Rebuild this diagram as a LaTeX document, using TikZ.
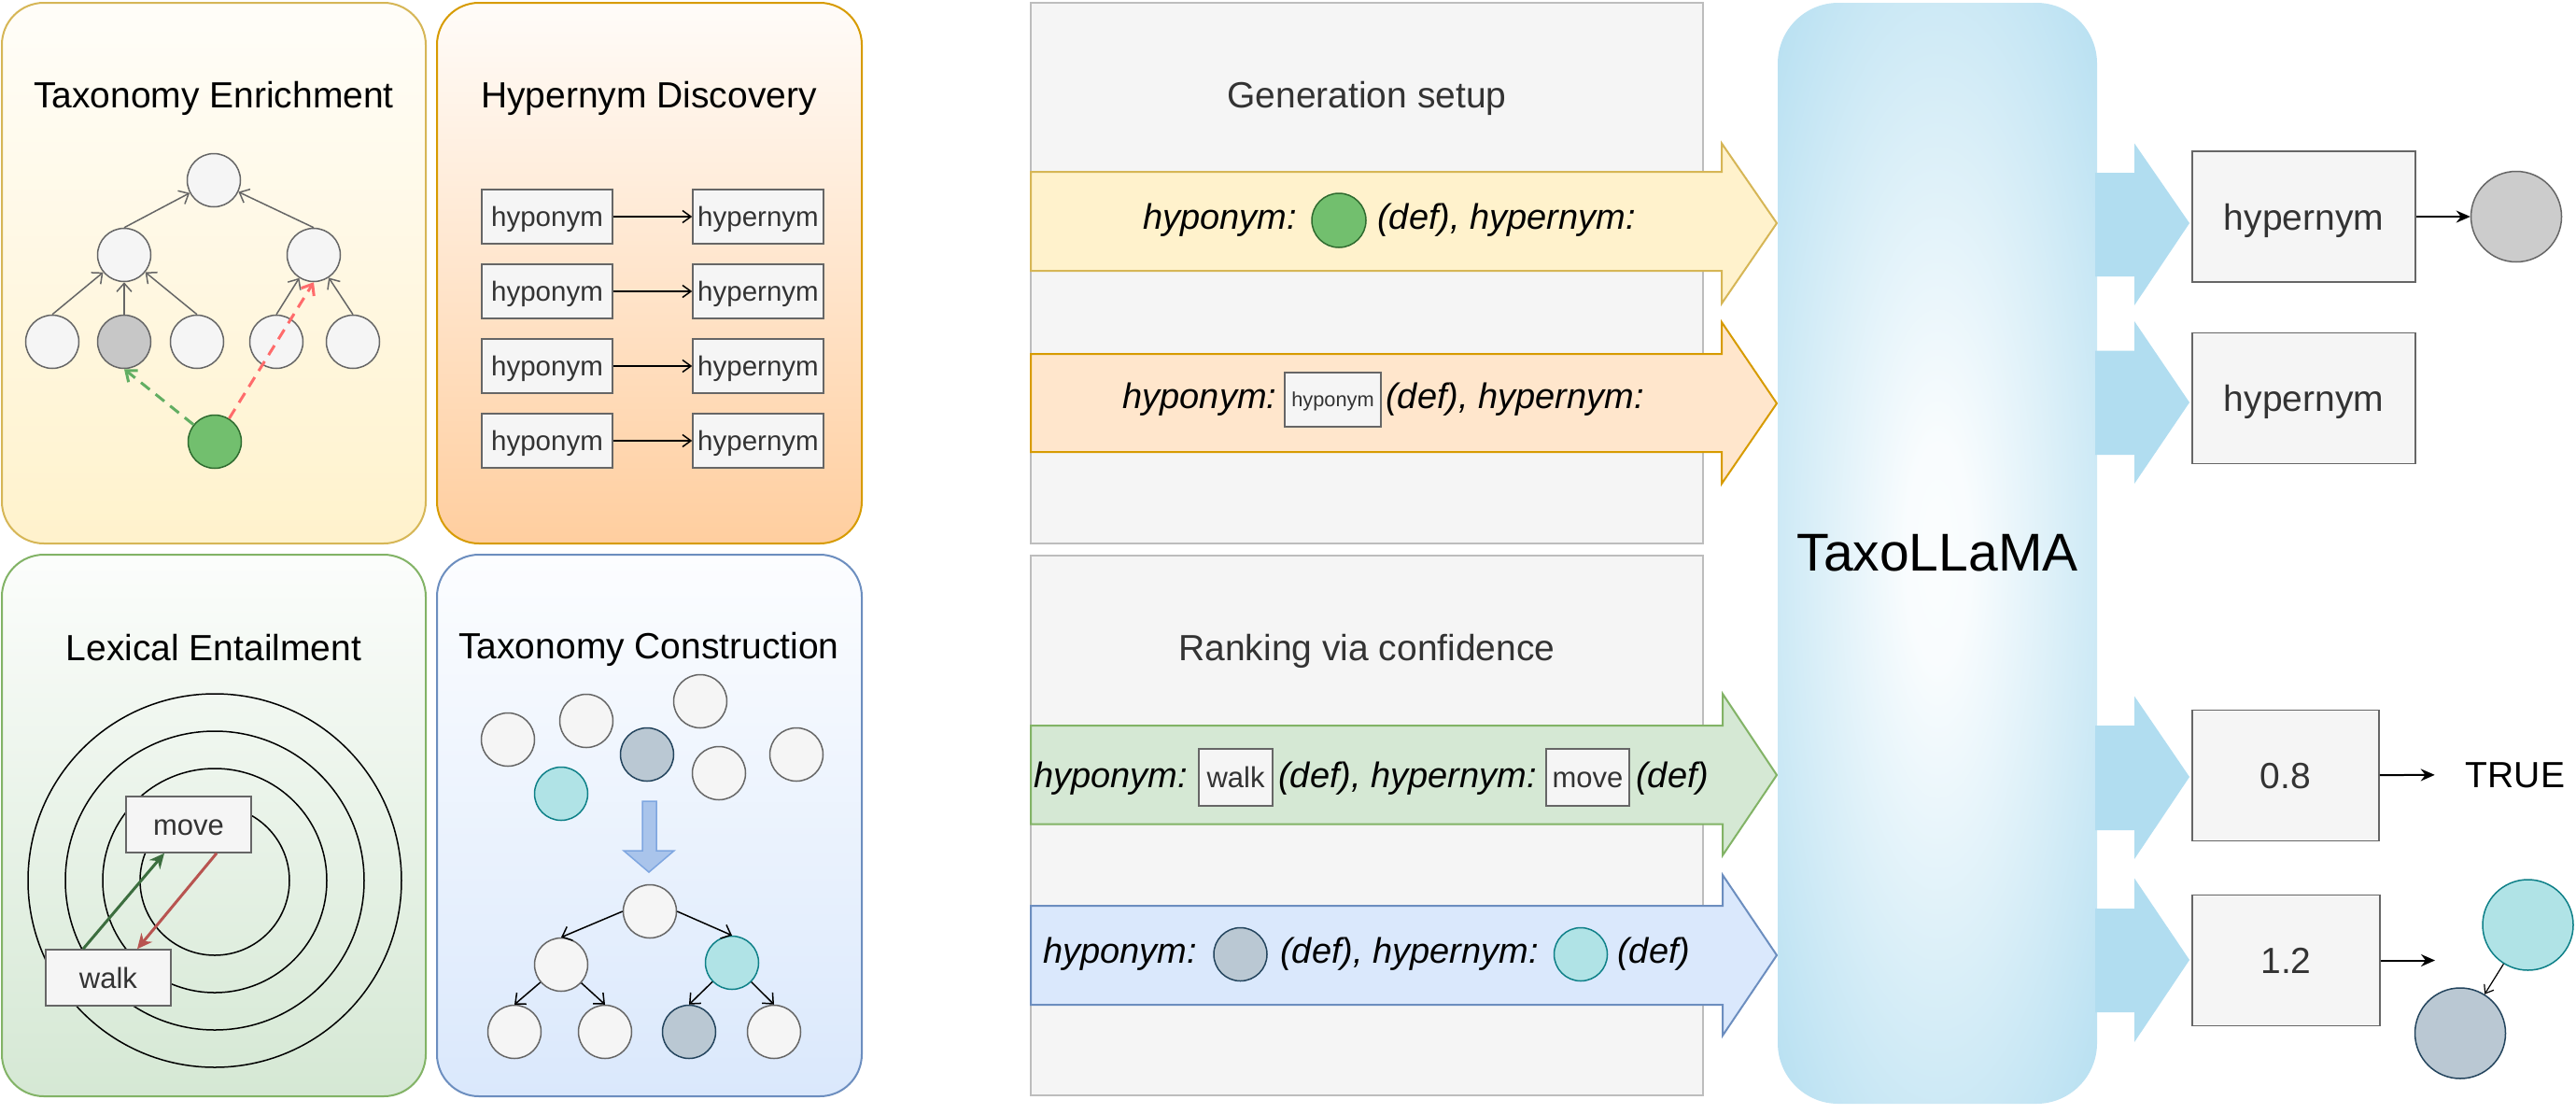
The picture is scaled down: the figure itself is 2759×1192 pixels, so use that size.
\documentclass[tikz,border=0pt]{standalone}
\usepackage{fontspec}
\setmainfont{Liberation Sans}
\usetikzlibrary{arrows.meta,calc}
\definecolor{tgray}{HTML}{666666}
\definecolor{nfill}{HTML}{F5F5F5}
\definecolor{txtgray}{HTML}{333333}
\definecolor{gfill}{HTML}{72BF6E}
\definecolor{gdraw}{HTML}{2F6B2F}
\definecolor{dashg}{HTML}{62AE62}
\definecolor{dashr}{HTML}{FF6B6B}
\definecolor{tealf}{HTML}{B0E3E6}
\definecolor{teald}{HTML}{0E8088}
\definecolor{slatef}{HTML}{BAC8D3}
\definecolor{slated}{HTML}{23445D}
\definecolor{ybord}{HTML}{D6B656}
\definecolor{yfill}{HTML}{FFF2CC}
\definecolor{obord}{HTML}{D79B00}
\definecolor{ofill}{HTML}{FFE6CC}
\definecolor{obot}{HTML}{FFCE9F}
\definecolor{gbord}{HTML}{82B366}
\definecolor{gfill2}{HTML}{D5E8D4}
\definecolor{bbord}{HTML}{6C8EBF}
\definecolor{bfill}{HTML}{DAE8FC}
\definecolor{tllblue}{HTML}{B1DDF0}
\definecolor{rectbord}{HTML}{BDBDBD}
\definecolor{arrg}{HTML}{3C6E3F}
\definecolor{arrr}{HTML}{B85450}
\definecolor{dnf}{HTML}{A9C4EB}
\definecolor{dnd}{HTML}{7EA6E0}
\newcommand\myfs[1]{\fontsize{#1pt}{#1pt}\selectfont}
\pgfdeclareradialshading{tllshade}{\pgfpoint{0bp}{0bp}}{color(0bp)=(tllblue!6!white); color(5bp)=(tllblue!8!white); color(38bp)=(tllblue); color(50bp)=(tllblue)}
\begin{document}
\begin{tikzpicture}[x=1pt,y=-1pt,
  ttl/.style={anchor=base, inner sep=0pt, font=\myfs{39}},
  mttl/.style={anchor=base, inner sep=0pt, font=\myfs{39}, text=txtgray},
  itx/.style={inner sep=0pt, font=\myfs{38}\itshape},
  tnode/.style={circle, draw=tgray, fill=nfill, line width=1.5pt, minimum size=57pt, inner sep=0pt},
  hbox/.style={draw=tgray, fill=nfill, line width=1.5pt, inner sep=0pt, minimum width=140pt, minimum height=58pt, text height=21pt, text depth=0pt, font=\myfs{29.5}, text=txtgray},
  lbox/.style={draw=tgray, fill=nfill, line width=1.5pt, inner sep=0pt, minimum width=134pt, minimum height=60pt, text height=22pt, text depth=0pt, font=\myfs{31}, text=txtgray},
  ibox/.style={draw=tgray, fill=nfill, line width=1.5pt, inner sep=0pt, minimum height=61pt, text height=22pt, text depth=0pt, font=\myfs{31}, text=txtgray},
  rbox/.style={draw=tgray, fill=nfill, line width=1.5pt, inner sep=0pt, minimum height=140pt, text height=28pt, text depth=0pt, font=\myfs{39}, text=txtgray},
  tedge/.style={draw=tgray, line width=1.5pt, -{Straight Barb[length=9pt,width=16pt]}},
  cedge/.style={draw=black, line width=1.5pt, -{Straight Barb[length=9pt,width=16pt]}},
  hedge/.style={draw=black, line width=1.5pt, -{Straight Barb[length=9pt,width=13pt]}},
  gdash/.style={draw=dashg, line width=3pt, dash pattern=on 12pt off 8pt, -{Straight Barb[length=10pt,width=16pt]}},
  rdash/.style={draw=dashr, line width=3pt, dash pattern=on 12pt off 8pt, -{Straight Barb[length=10pt,width=16pt]}},
  barrow/.style={draw=black, line width=2pt, -{Stealth[length=15pt,width=13pt]}},
  panel/.style={line width=2pt, rounded corners=45pt},
  grect/.style={draw=rectbord, fill=nfill, line width=1.5pt},
  outarr/.style={fill=tllblue, draw=none}
]
\useasboundingbox (0,0) rectangle (2759,1192);
\fill[white] (0,0) rectangle (2759,1192);

% ---------- Panel 1: Taxonomy Enrichment ----------
\path[panel, draw=ybord, top color=yfill!12!white, bottom color=yfill] (2,3) rectangle (456,582);
\node[ttl] (t1) at (229,115) {Taxonomy Enrichment};
\node[tnode] (r) at (229,193) {};
\node[tnode] (a) at (133,273) {};
\node[tnode] (b) at (336,273) {};
\node[tnode] (a1) at (56,366) {};
\node[tnode, fill=black!22] (a2) at (133,366) {};
\node[tnode] (a3) at (211,366) {};
\node[tnode] (b1) at (296,366) {};
\node[tnode] (b2) at (378,366) {};
\node[tnode, fill=gfill, draw=gdraw] (gn) at (230,473) {};
\draw[tedge] (a.north) -- (r);
\draw[tedge] (b.north) -- (r);
\draw[tedge] (a1.north) -- (a);
\draw[tedge] (a2.north) -- (a);
\draw[tedge] (a3.north) -- (a);
\draw[tedge] (b1.north) -- (b);
\draw[tedge] (b2.north) -- (b);
\draw[gdash] (gn) -- (a2.south);
\draw[rdash] (gn) -- (b.south);

% ---------- Panel 2: Hypernym Discovery ----------
\path[panel, draw=obord, top color=obot!6!white, bottom color=obot] (468,3) rectangle (923,582);
\node[ttl] (t2) at (695,115) {Hypernym Discovery};
\foreach \i/\yy in {1/232,2/312,3/392,4/472}{
  \node[hbox] (ho\i) at (586,\yy) {hyponym};
  \node[hbox] (he\i) at (812,\yy) {hypernym};
  \draw[hedge] (ho\i) -- (he\i);
}

% ---------- Panel 3: Lexical Entailment ----------
\path[panel, draw=gbord, top color=gfill2!8!white, bottom color=gfill2] (2,594) rectangle (456,1174);
\node[ttl] (t3) at (229,707) {Lexical Entailment};
\coordinate (lc) at (230,943);
\foreach \rr in {200,160,120,80}{
  \draw[black, line width=1.5pt] (lc) circle[radius=\rr pt];
}
\node[lbox] (mv) at (202,883) {move};
\node[lbox] (wk) at (116,1047) {walk};
\draw[arrg, line width=3pt, -{Stealth[length=16pt,width=15pt]}] ([xshift=-27pt]wk.north) -- ([xshift=-26pt]mv.south);
\draw[arrr, line width=3pt, -{Stealth[length=16pt,width=15pt]}] ([xshift=30pt]mv.south) -- ([xshift=31pt]wk.north);

% ---------- Panel 4: Taxonomy Construction ----------
\path[panel, draw=bbord, top color=bfill!8!white, bottom color=bfill] (468,594) rectangle (923,1174);
\node[ttl] (t4) at (695,705) {Taxonomy Construction};
\node[tnode] (s1) at (544,792) {};
\node[tnode] (s2) at (628,772) {};
\node[tnode] (s3) at (750,751) {};
\node[tnode, fill=slatef, draw=slated] (s4) at (693,808) {};
\node[tnode] (s5) at (770,828) {};
\node[tnode] (s6) at (853,808) {};
\node[tnode, fill=tealf, draw=teald] (s7) at (601,850) {};
\draw[fill=dnf, draw=dnd, line width=1.5pt] (688,858) -- (703,858) -- (703,911) -- (722,911) -- (695,934) -- (668,911) -- (688,911) -- cycle;
\node[tnode] (cr) at (696,976) {};
\node[tnode] (cl) at (601,1033) {};
\node[tnode, fill=tealf, draw=teald] (crr) at (784,1031) {};
\node[tnode] (cll) at (551,1105) {};
\node[tnode] (clr) at (648,1105) {};
\node[tnode, fill=slatef, draw=slated] (crl) at (738,1105) {};
\node[tnode] (crx) at (829,1105) {};
\draw[cedge] (cr.west) -- (cl.north);
\draw[cedge] (cr.east) -- (crr.north);
\draw[cedge] (cl) -- (cll.north);
\draw[cedge] (cl) -- (clr.north);
\draw[cedge] (crr) -- (crl.north);
\draw[cedge] (crr) -- (crx.north);

% ---------- Middle: Generation setup ----------
\draw[grect] (1104,3) rectangle (1824,582);
\node[mttl] (g1) at (1464,115) {Generation setup};
\draw[fill=yfill, draw=ybord, line width=2pt] (1104,184) -- (1844,184) -- (1844,153.5) -- (1903,239) -- (1844,325) -- (1844,290) -- (1104,290) -- cycle;
\node[tnode, minimum size=58pt, fill=gfill, draw=gdraw] (y1c) at (1434,236) {};
\node[itx, anchor=base east] (y1a) at (1389,245) {hyponym:};
\node[itx, anchor=base west] (y1b) at (1475,245) {(def), hypernym:};
\draw[fill=ofill, draw=obord, line width=2pt] (1104,379) -- (1844,379) -- (1844,345) -- (1903,432) -- (1844,518) -- (1844,484) -- (1104,484) -- cycle;
\node[itx, anchor=base east] (o1a) at (1367.5,437.5) {hyponym:};
\node[ibox, minimum width=103pt, minimum height=58pt, text height=15.6pt, font=\myfs{21.8}] (o1b) at (1427.5,428) {hyponym};
\node[itx, anchor=base west] (o1c) at (1484,437.5) {(def), hypernym:};

% ---------- Middle: Ranking via confidence ----------
\draw[grect] (1104,595) rectangle (1824,1173);
\node[mttl] (g2) at (1464,707) {Ranking via confidence};
\draw[fill=gfill2, draw=gbord, line width=2pt] (1104,777) -- (1845,777) -- (1845,743) -- (1903,830) -- (1845,916) -- (1845,882.5) -- (1104,882.5) -- cycle;
\node[itx, anchor=base east] (l3a) at (1272,843) {hyponym:};
\node[ibox, minimum width=79pt] (l3b) at (1323.5,832.5) {walk};
\node[itx, anchor=base west] (l3c) at (1369,843) {(def), hypernym:};
\node[ibox, minimum width=89pt] (l3d) at (1700.5,832.5) {move};
\node[itx, anchor=base west] (l3e) at (1752,843) {(def)};
\draw[fill=bfill, draw=bbord, line width=2pt] (1104,970) -- (1845,970) -- (1845,937) -- (1903,1023) -- (1845,1109) -- (1845,1076) -- (1104,1076) -- cycle;
\node[itx, anchor=base east] (l4a) at (1282,1031.5) {hyponym:};
\node[tnode, fill=slatef, draw=slated] (l4b) at (1328.5,1022) {};
\node[itx, anchor=base west] (l4c) at (1371,1031.5) {(def), hypernym:};
\node[tnode, fill=tealf, draw=teald] (l4d) at (1693,1022) {};
\node[itx, anchor=base west] (l4e) at (1732,1031.5) {(def)};

% ---------- TaxoLLaMA ----------
\shade[shading=tllshade, rounded corners=65pt] (1904,3) rectangle (2246,1182);
\node[anchor=base, inner sep=0pt, font=\myfs{57}] (tl) at (2075,611.5) {TaxoLLaMA};
\fill[outarr] (2244,185) -- (2286,185) -- (2286,153.5) -- (2345,239) -- (2286,327) -- (2286,296) -- (2244,296) -- cycle;
\fill[outarr] (2244,375.5) -- (2286,375.5) -- (2286,344) -- (2345,431) -- (2286,518) -- (2286,487) -- (2244,487) -- cycle;
\fill[outarr] (2244,777) -- (2286,777) -- (2286,745.5) -- (2345,832) -- (2286,920) -- (2286,889) -- (2244,889) -- cycle;
\fill[outarr] (2244,973) -- (2286,973) -- (2286,940.5) -- (2345,1028) -- (2286,1116) -- (2286,1084) -- (2244,1084) -- cycle;

% ---------- Outputs ----------
\node[rbox, minimum width=239pt] (r1) at (2467.5,232) {hypernym};
\node[rbox, minimum width=239pt] (r2) at (2467.5,426.5) {hypernym};
\node[rbox, minimum width=200pt] (r3) at (2448,830.5) {0.8};
\node[rbox, minimum width=201pt] (r4) at (2448.5,1028.5) {1.2};
\node[circle, minimum size=97pt, inner sep=0pt, fill=black!20, draw=tgray, line width=1.5pt] (oc) at (2695,232) {};
\draw[barrow] (r1) -- (oc);
\node[inner sep=0pt, font=\myfs{39}, text height=28pt, text depth=0pt] (tr) at (2694,829.5) {TRUE};
\draw[barrow, shorten >=33pt] (r3) -- (tr);
\coordinate (c4) at (2608,1028.5);
\draw[barrow] (r4) -- (c4);
\node[circle, minimum size=97pt, inner sep=0pt, fill=tealf, draw=teald, line width=1.5pt] (otc) at (2707.5,990.5) {};
\node[circle, minimum size=97pt, inner sep=0pt, fill=slatef, draw=slated, line width=1.5pt] (osc) at (2635,1106.5) {};
\draw[draw=black, line width=1.2pt, -{Straight Barb[length=8pt,width=12pt]}] (otc) -- (osc);
\end{tikzpicture}
\end{document}
